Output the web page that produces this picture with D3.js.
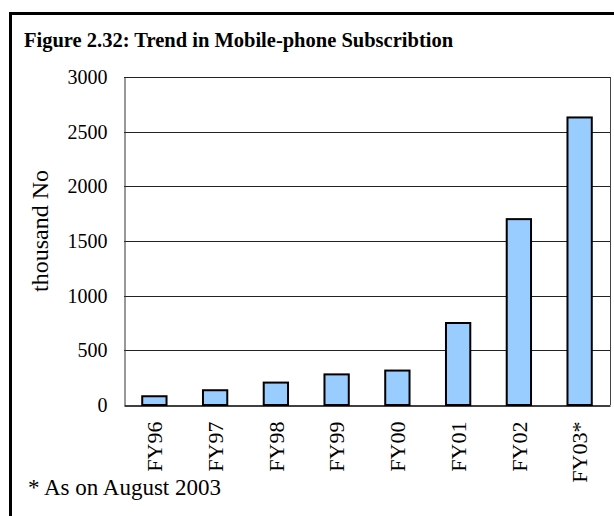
<!DOCTYPE html>
<html>
<head>
<meta charset="utf-8">
<script src="https://cdn.jsdelivr.net/npm/d3@7"></script>
<style>
  body { margin: 0; background: #fff; }
  text { font-family: "Liberation Serif", "Times New Roman", serif; fill: #000; }
</style>
</head>
<body>
<div id="chart"></div>
<script>
// Chart data
const years = ["FY96", "FY97", "FY98", "FY99", "FY00", "FY01", "FY02", "FY03*"];
const subscribers = [80, 135, 205, 280, 315, 750, 1700, 2630];
const yTicks = [0, 500, 1000, 1500, 2000, 2500, 3000];

const width = 614, height = 516;
const plot = { left: 124, right: 610, top: 77, bottom: 405 };

const svg = d3.select("#chart")
  .append("svg")
  .attr("width", width)
  .attr("height", height);

// outer frame (only top + left visible in the crop)
svg.append("line")
  .attr("x1", 10).attr("x2", width).attr("y1", 13.5).attr("y2", 13.5)
  .attr("stroke", "#000").attr("stroke-width", 3);
svg.append("line")
  .attr("x1", 10.5).attr("x2", 10.5).attr("y1", 12).attr("y2", height)
  .attr("stroke", "#000").attr("stroke-width", 3);

// title
svg.append("text")
  .attr("x", 24).attr("y", 47)
  .attr("font-size", 20.5)
  .attr("font-weight", "bold")
  .text("Figure 2.32: Trend in Mobile-phone Subscribtion");

const x = d3.scaleBand()
  .domain(years)
  .range([plot.left, plot.right])
  .paddingInner(0.6)
  .paddingOuter(0.3);

const y = d3.scaleLinear()
  .domain([0, 3000])
  .range([plot.bottom, plot.top]);

// gridlines
svg.append("g")
  .selectAll("line")
  .data(yTicks.filter(d => d > 0))
  .enter()
  .append("line")
  .attr("x1", plot.left).attr("x2", plot.right)
  .attr("y1", d => Math.round(y(d)) + 0.5)
  .attr("y2", d => Math.round(y(d)) + 0.5)
  .attr("stroke", "#222")
  .attr("stroke-width", 1);

// plot border (right side)
svg.append("line")
  .attr("x1", plot.right + 0.5).attr("x2", plot.right + 0.5)
  .attr("y1", plot.top).attr("y2", plot.bottom)
  .attr("stroke", "#444");

// y axis
const yAxis = svg.append("g")
  .attr("transform", `translate(${plot.left + 0.5},0)`)
  .call(d3.axisLeft(y).tickValues(yTicks).tickFormat(d3.format("d")).tickSize(0).tickPadding(17));
yAxis.select(".domain").attr("stroke", "#333");
yAxis.selectAll("text")
  .attr("font-size", 20)
  .attr("font-family", "Liberation Serif")
  .attr("fill", "#000");

// bars
svg.append("g")
  .selectAll("rect")
  .data(subscribers)
  .enter()
  .append("rect")
  .attr("x", (d, i) => x(years[i]))
  .attr("y", d => y(d))
  .attr("width", x.bandwidth())
  .attr("height", d => y(0) - y(d))
  .attr("fill", "#99ccff")
  .attr("stroke", "#000")
  .attr("stroke-width", 2);

// x axis
const xAxis = svg.append("g")
  .attr("transform", `translate(0,${plot.bottom + 0.5})`)
  .call(d3.axisBottom(x).tickSize(0).tickPadding(0));
xAxis.select(".domain").attr("stroke", "#000").attr("stroke-width", 1.5);
xAxis.selectAll("text")
  .attr("font-size", 22)
  .attr("font-family", "Liberation Serif")
  .attr("fill", "#000")
  .attr("text-anchor", "end")
  .attr("transform", "rotate(-90)")
  .attr("x", -16)
  .attr("y", 0)
  .attr("dy", "0.35em");

// y axis title
svg.append("text")
  .attr("transform", "translate(40,231) rotate(-90)")
  .attr("text-anchor", "middle")
  .attr("dy", "0.35em")
  .attr("font-size", 24)
  .text("thousand No");

// footnote
svg.append("text")
  .attr("x", 28).attr("y", 495)
  .attr("font-size", 23)
  .text("* As on August 2003");
</script>
</body>
</html>
